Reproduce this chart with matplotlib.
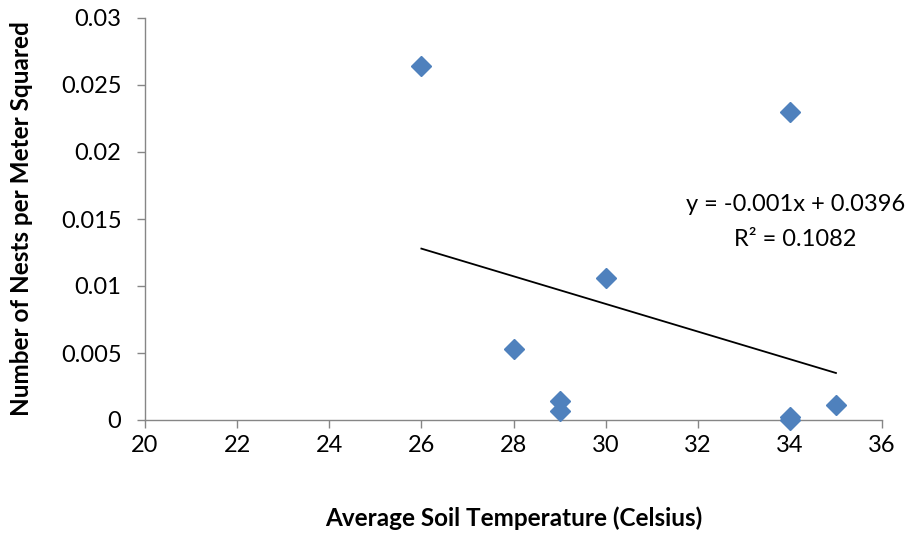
import numpy as np
import matplotlib
matplotlib.use("Agg")
import matplotlib.pyplot as plt

plt.rcParams['font.family'] = ['Lato', 'DejaVu Sans']

temps = [26, 34, 30, 28, 29, 29, 34, 35, 34]
nests = [0.0264, 0.0230, 0.0106, 0.0053, 0.0014, 0.0007, 0.0002, 0.0011, 0.0000]
x_ticks = [20, 22, 24, 26, 28, 30, 32, 34, 36]
y_ticks = [0, 0.005, 0.01, 0.015, 0.02, 0.025, 0.03]
y_tick_labels = ["0", "0.005", "0.01", "0.015", "0.02", "0.025", "0.03"]
eq_text = "y = -0.001x + 0.0396"
r2_text = "R² = 0.1082"

fig = plt.figure(figsize=(9.09, 5.33), dpi=100)
ax = fig.add_axes([145/909, 1-420/533, (882-145)/909, (420-18)/533])

slope, intercept = np.polyfit(temps, nests, 1)
xs = np.array([min(temps), max(temps)])
ax.plot(xs, slope*xs + intercept, color='black', lw=1.3, zorder=2)

ax.plot(temps, nests, linestyle='none', marker='D', markersize=10.5,
        color='#4F81BD', markeredgecolor='#4F81BD', zorder=3, clip_on=False)

ax.set_xlim(20, 36)
ax.set_ylim(0, 0.03)
ax.set_xticks(x_ticks)
ax.set_xticklabels([str(t) for t in x_ticks])
ax.set_yticks(y_ticks)
ax.set_yticklabels(y_tick_labels)

for s in ['top', 'right']:
    ax.spines[s].set_visible(False)
for s in ['left', 'bottom']:
    ax.spines[s].set_color('#868686')
    ax.spines[s].set_linewidth(1.0)
ax.tick_params(axis='both', colors='#868686', labelcolor='black', labelsize=17,
               length=6, width=1.0, direction='out')
ax.tick_params(axis='x', pad=5)
ax.tick_params(axis='y', pad=11)

ax.text(34.12, 0.0161, eq_text, ha='center', va='center', fontsize=17)
ax.text(34.12, 0.0135, r2_text, ha='center', va='center', fontsize=17)

ax.set_xlabel("Average Soil Temperature (Celsius)", fontsize=17.5, fontweight='bold', labelpad=36)
ax.set_ylabel("Number of Nests per Meter Squared", fontsize=17.5, fontweight='bold', labelpad=20)

fig.savefig("out.png", dpi=100)
